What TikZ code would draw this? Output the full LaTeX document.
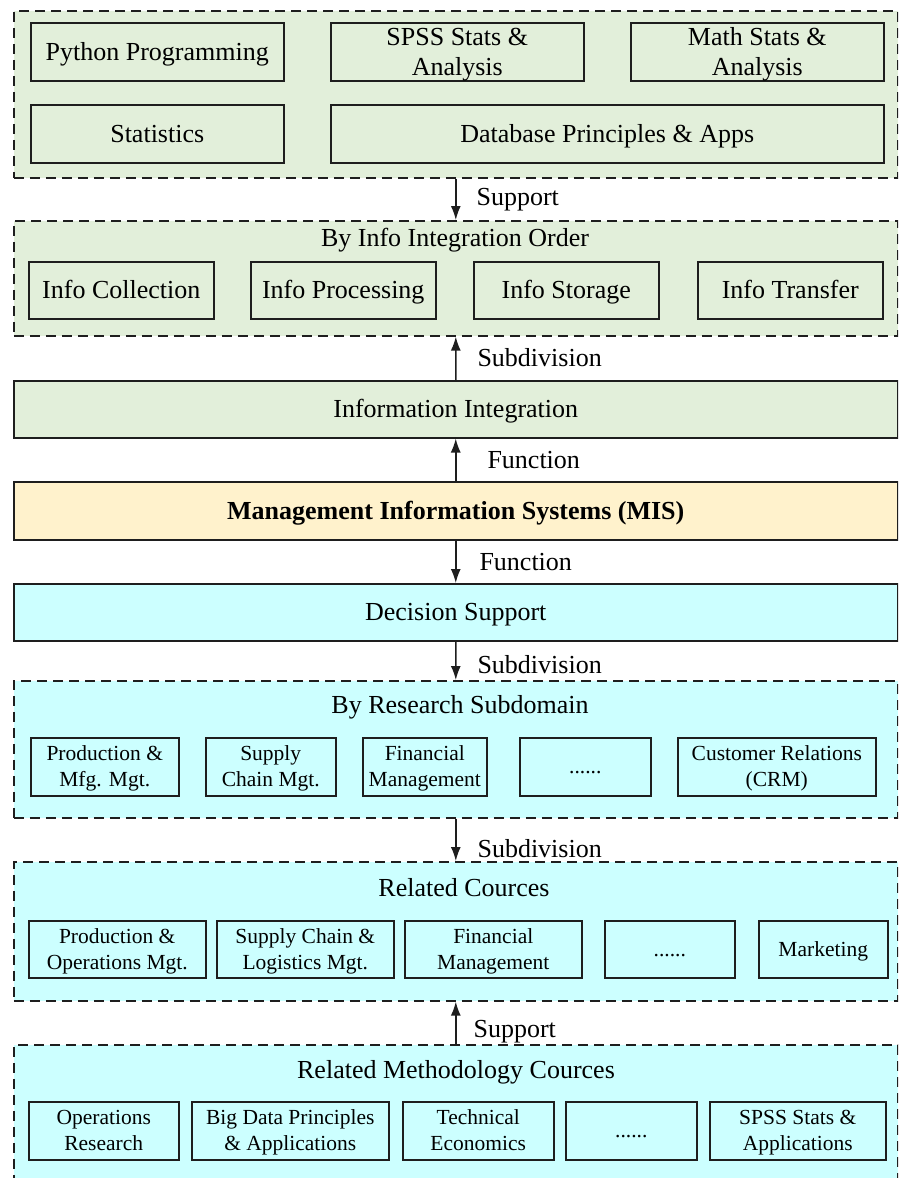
\documentclass[tikz,border=0pt]{standalone}
\usepackage{fontspec}
\setmainfont{Liberation Serif}
\usetikzlibrary{arrows.meta}
\definecolor{gfill}{RGB}{226,239,218}
\definecolor{cfill}{RGB}{204,255,255}
\definecolor{yfill}{RGB}{255,242,204}
\definecolor{edge}{RGB}{30,30,30}
\newcommand{\bst}{\rule[-5.4pt]{0pt}{28pt}}
\newcommand{\sst}{\rule[-5.9pt]{0pt}{26pt}}
\tikzset{
  base/.style={draw=edge, line width=1.5pt, anchor=north west, inner sep=0pt, align=center},
  bigbox/.style={base, font=\fontsize{26}{30}\selectfont},
  smallbox/.style={base, font=\fontsize{21.5}{26}\selectfont},
  container/.style={draw=edge, line width=1.6pt, dash pattern=on 10pt off 6pt, anchor=north west, inner sep=0pt},
  ttl/.style={font=\fontsize{26}{30}\selectfont, inner sep=0pt},
  lbl/.style={font=\fontsize{26}{30}\selectfont, inner sep=0pt, anchor=west},
  arr/.style={line width=1.5pt, draw=edge, -{Latex[length=14pt,width=10pt]}},
}
\newcommand{\bx}[7]{\node[#1, fill=#2, minimum width=#5pt, minimum height=#6pt] (#3) at (#4) {#7};}
\begin{document}
\begin{tikzpicture}[x=1pt,y=-1pt]
\useasboundingbox (0,0) rectangle (898,1178);
\begin{scope}
\clip (0,0) rectangle (898,1178);
% top container
\bx{container}{gfill}{c1}{13,10}{884}{167}{}
\bx{bigbox}{gfill}{py}{30,22}{253}{58}{\bst Python Programming}
\bx{bigbox}{gfill}{spss}{330,22}{253}{58}{\bst SPSS Stats \&\\\bst Analysis}
\bx{bigbox}{gfill}{math}{630,22}{253}{58}{\bst Math Stats \&\\\bst Analysis}
\bx{bigbox}{gfill}{stat}{30,104}{253}{58}{\bst Statistics}
\bx{bigbox}{gfill}{db}{330,104}{553}{58}{\bst Database Principles \& Apps}
% info integration order
\bx{container}{gfill}{c2}{13,220}{884}{115}{}
\node[ttl] (t2) at (455,238) {\bst By Info Integration Order};
\bx{bigbox}{gfill}{ic}{28,261}{185}{57}{\bst Info Collection}
\bx{bigbox}{gfill}{ip}{250,261}{185}{57}{\bst Info Processing}
\bx{bigbox}{gfill}{is}{473,261}{185}{57}{\bst Info Storage}
\bx{bigbox}{gfill}{it}{697,261}{185}{57}{\bst Info Transfer}
% information integration
\bx{bigbox}{gfill}{ii}{13,380}{884}{57}{\bst Information Integration}
% MIS
\bx{bigbox}{yfill}{mis}{13,481}{884}{58}{\bst\bfseries Management Information Systems (MIS)}
% decision support
\bx{bigbox}{cfill}{ds}{13,583}{884}{57}{\bst Decision Support}
% research subdomain
\bx{container}{cfill}{c3}{13,680}{884}{137}{}
\node[ttl] (t3) at (460,705) {\bst By Research Subdomain};
\bx{smallbox}{cfill}{r1}{30,737}{148}{58}{\sst Production \&\\\sst Mfg. Mgt.}
\bx{smallbox}{cfill}{r2}{205,737}{130}{58}{\sst Supply\\\sst Chain Mgt.}
\bx{smallbox}{cfill}{r3}{362,737}{124}{58}{\sst Financial\\\sst Management}
\bx{smallbox}{cfill}{r4}{519,737}{131}{58}{\sst ......}
\bx{smallbox}{cfill}{r5}{677,737}{198}{58}{\sst Customer Relations\\\sst (CRM)}
% related cources
\bx{container}{cfill}{c4}{13,861}{884}{139}{}
\node[ttl] (t4) at (464,888) {\bst Related Cources};
\bx{smallbox}{cfill}{k1}{28,920}{177}{57}{\sst Production \&\\\sst Operations Mgt.}
\bx{smallbox}{cfill}{k2}{216,920}{177}{57}{\sst Supply Chain \&\\\sst Logistics Mgt.}
\bx{smallbox}{cfill}{k3}{404,920}{177}{57}{\sst Financial\\\sst Management}
\bx{smallbox}{cfill}{k4}{604,920}{130}{57}{\sst ......}
\bx{smallbox}{cfill}{k5}{758,920}{129}{57}{\sst Marketing}
% related methodology cources
\bx{container}{cfill}{c5}{13,1044}{884}{150}{}
\node[ttl] (t5) at (456,1070) {\bst Related Methodology Cources};
\bx{smallbox}{cfill}{m1}{28,1101}{150}{58}{\sst Operations\\\sst Research}
\bx{smallbox}{cfill}{m2}{191,1101}{197}{58}{\sst Big Data Principles\\\sst \& Applications}
\bx{smallbox}{cfill}{m3}{402,1101}{151}{58}{\sst Technical\\\sst Economics}
\bx{smallbox}{cfill}{m4}{565,1101}{131}{58}{\sst ......}
\bx{smallbox}{cfill}{m5}{709,1101}{176}{58}{\sst SPSS Stats \&\\\sst Applications}
\end{scope}
% connectors
\draw[arr] (c1.south) -- (c2.north) node[lbl, pos=0.45, xshift=20pt] {\bst Support};
\draw[arr] (ii.north) -- (c2.south) node[lbl, midway, xshift=21pt] {\bst Subdivision};
\draw[arr] (mis.north) -- (ii.south) node[lbl, midway, xshift=31pt] {\bst Function};
\draw[arr] (mis.south) -- (ds.north) node[lbl, midway, xshift=23pt] {\bst Function};
\draw[arr] (ds.south) -- (c3.north) node[lbl, pos=0.6, xshift=21pt] {\bst Subdivision};
\draw[arr] (c3.south) -- (c4.north) node[lbl, pos=0.72, xshift=21pt] {\bst Subdivision};
\draw[arr] (c5.north) -- (c4.south) node[lbl, pos=0.35, xshift=17pt] {\bst Support};
\end{tikzpicture}
\end{document}
